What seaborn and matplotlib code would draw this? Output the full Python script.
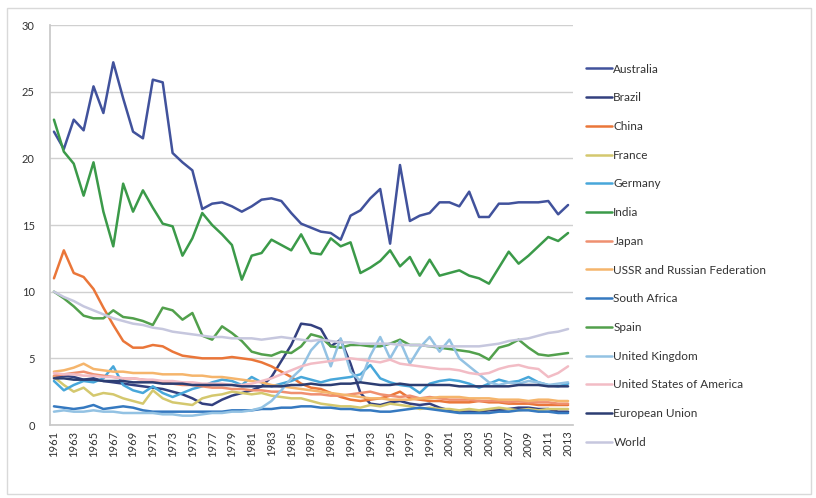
import matplotlib
matplotlib.use("Agg")
import matplotlib.pyplot as plt
from matplotlib.patches import Rectangle
from matplotlib.lines import Line2D
import numpy as np
import pandas as pd
import seaborn as sns

years = list(range(1961, 2014))

australia = [22.0, 20.7, 22.9, 22.1, 25.4, 23.4, 27.2, 24.5, 22.0, 21.5,
             25.9, 25.7, 20.4, 19.7, 19.1, 16.2, 16.6, 16.7, 16.4, 16.0,
             16.4, 16.9, 17.0, 16.8, 15.9, 15.1, 14.8, 14.5, 14.4, 13.9,
             15.7, 16.1, 17.0, 17.7, 13.6, 19.5, 15.3, 15.7, 15.9, 16.7,
             16.7, 16.4, 17.5, 15.6, 15.6, 16.6, 16.6, 16.7, 16.7, 16.7,
             16.8, 15.8, 16.5]
brazil = [3.6, 3.7, 3.6, 3.4, 3.5, 3.3, 3.2, 3.1, 3.0, 2.9,
          2.8, 2.7, 2.5, 2.3, 2.0, 1.6, 1.5, 1.9, 2.2, 2.4,
          2.6, 2.9, 3.6, 4.8, 6.0, 7.6, 7.5, 7.2, 5.9, 6.4,
          4.6, 2.4, 1.6, 1.5, 1.7, 1.8, 1.6, 1.5, 1.6, 1.3,
          1.1, 1.0, 1.0, 1.0, 1.1, 1.1, 1.2, 1.3, 1.3, 1.2,
          1.2, 1.0, 1.0]
china = [11.0, 13.1, 11.4, 11.1, 10.2, 8.8, 7.5, 6.3, 5.8, 5.8,
         6.0, 5.9, 5.5, 5.2, 5.1, 5.0, 5.0, 5.0, 5.1, 5.0,
         4.9, 4.7, 4.4, 4.0, 3.6, 3.1, 2.8, 2.7, 2.4, 2.1,
         1.9, 1.8, 1.9, 2.0, 2.2, 2.5, 2.0, 1.9, 1.8, 1.8,
         1.7, 1.7, 1.7, 1.8, 1.7, 1.7, 1.6, 1.6, 1.6, 1.5,
         1.5, 1.5, 1.5]
france = [3.6, 3.0, 2.5, 2.8, 2.2, 2.4, 2.3, 2.0, 1.8, 1.6,
          2.6, 2.0, 1.7, 1.6, 1.5, 2.0, 2.2, 2.3, 2.5, 2.4,
          2.3, 2.4, 2.2, 2.1, 2.0, 2.0, 1.8, 1.6, 1.5, 1.4,
          1.4, 1.3, 1.5, 1.4, 1.6, 1.5, 1.4, 1.2, 1.3, 1.2,
          1.2, 1.1, 1.2, 1.1, 1.2, 1.3, 1.2, 1.1, 1.2, 1.1,
          1.2, 1.2, 1.2]
germany = [3.3, 2.6, 3.0, 3.3, 3.2, 3.5, 4.4, 3.0, 2.6, 2.4,
           2.9, 2.4, 2.1, 2.4, 2.7, 2.9, 3.2, 3.4, 3.3, 3.0,
           3.6, 3.2, 2.9, 3.1, 3.3, 3.6, 3.4, 3.2, 3.4, 3.5,
           3.6, 3.8, 4.5, 3.5, 3.2, 3.0, 2.9, 2.4, 3.1, 3.3,
           3.4, 3.3, 3.1, 2.8, 3.1, 3.4, 3.2, 3.3, 3.6, 3.2,
           3.0, 2.9, 3.1]
india = [22.9, 20.5, 19.6, 17.2, 19.7, 16.0, 13.4, 18.1, 16.0, 17.6,
         16.3, 15.1, 14.9, 12.7, 14.0, 15.9, 15.0, 14.3, 13.5, 10.9,
         12.7, 12.9, 13.9, 13.5, 13.1, 14.3, 12.9, 12.8, 14.0, 13.4,
         13.7, 11.4, 11.8, 12.3, 13.1, 11.9, 12.6, 11.2, 12.4, 11.2,
         11.4, 11.6, 11.2, 11.0, 10.6, 11.8, 13.0, 12.1, 12.7, 13.4,
         14.1, 13.8, 14.4]
japan = [3.7, 3.8, 3.9, 4.0, 3.8, 3.7, 3.6, 3.5, 3.5, 3.4,
         3.3, 3.2, 3.1, 3.0, 3.0, 2.9, 2.8, 2.8, 2.7, 2.7,
         2.6, 2.6, 2.5, 2.5, 2.4, 2.4, 2.3, 2.3, 2.2, 2.2,
         2.3, 2.4, 2.5, 2.3, 2.2, 2.1, 2.2, 2.0, 2.1, 2.0,
         1.9, 1.9, 1.9, 1.8, 1.8, 1.8, 1.7, 1.8, 1.7, 1.7,
         1.7, 1.6, 1.6]
ussr = [4.0, 4.1, 4.3, 4.6, 4.2, 4.1, 4.0, 4.0, 3.9, 3.9,
        3.9, 3.8, 3.8, 3.8, 3.7, 3.7, 3.6, 3.6, 3.5, 3.4,
        3.3, 3.2, 3.0, 2.9, 2.8, 2.7, 2.6, 2.5, 2.4, 2.3,
        2.2, 2.1, 2.0, 2.0, 1.9, 1.9, 1.9, 2.0, 2.0, 2.1,
        2.1, 2.1, 2.0, 2.0, 2.0, 1.9, 1.9, 1.9, 1.8, 1.9,
        1.9, 1.8, 1.8]
south_africa = [1.4, 1.3, 1.2, 1.3, 1.5, 1.2, 1.3, 1.4, 1.3, 1.1,
                1.0, 1.0, 1.0, 1.0, 1.0, 1.0, 1.0, 1.0, 1.1, 1.1,
                1.1, 1.2, 1.2, 1.3, 1.3, 1.4, 1.4, 1.3, 1.3, 1.2,
                1.2, 1.1, 1.1, 1.0, 1.0, 1.1, 1.2, 1.3, 1.2, 1.1,
                1.0, 0.9, 0.9, 0.9, 0.9, 1.0, 1.0, 1.1, 1.1, 1.0,
                1.0, 0.9, 0.9]
spain = [10.0, 9.5, 8.9, 8.2, 8.0, 8.0, 8.6, 8.1, 8.0, 7.8,
         7.5, 8.8, 8.6, 7.9, 8.4, 6.7, 6.4, 7.4, 6.9, 6.3,
         5.5, 5.3, 5.2, 5.5, 5.4, 5.9, 6.8, 6.6, 5.9, 5.8,
         6.0, 6.0, 5.9, 5.9, 6.1, 6.4, 6.0, 6.0, 5.9, 5.8,
         5.7, 5.6, 5.5, 5.3, 4.9, 5.8, 6.0, 6.4, 5.8, 5.3,
         5.2, 5.3, 5.4]
united_kingdom = [1.0, 1.1, 1.0, 1.0, 1.1, 1.0, 1.0, 0.9, 0.9, 0.9,
                  0.9, 0.8, 0.8, 0.7, 0.7, 0.8, 0.9, 0.9, 1.0, 1.0,
                  1.1, 1.3, 1.8, 2.6, 3.5, 4.2, 5.6, 6.4, 4.4, 6.5,
                  4.0, 3.3, 5.2, 6.6, 5.0, 6.3, 4.6, 5.8, 6.6, 5.5,
                  6.4, 5.0, 4.4, 3.8, 3.2, 3.0, 3.2, 3.1, 3.3, 3.2,
                  3.0, 3.1, 3.2]
united_states = [3.9, 3.8, 3.8, 3.7, 3.7, 3.6, 3.6, 3.5, 3.5, 3.4,
                 3.4, 3.3, 3.3, 3.2, 3.2, 3.1, 3.1, 3.1, 3.0, 3.0,
                 3.1, 3.3, 3.5, 3.8, 4.1, 4.4, 4.6, 4.7, 4.8, 4.9,
                 5.0, 4.9, 4.8, 4.7, 4.9, 4.6, 4.5, 4.4, 4.3, 4.2,
                 4.2, 4.1, 3.9, 3.8, 3.9, 4.2, 4.4, 4.5, 4.3, 4.2,
                 3.6, 3.9, 4.4]
european_union = [3.5, 3.5, 3.4, 3.4, 3.4, 3.3, 3.3, 3.3, 3.2, 3.2,
                  3.2, 3.1, 3.1, 3.1, 3.0, 3.0, 3.0, 3.0, 3.0, 2.9,
                  2.9, 2.9, 2.9, 2.9, 3.0, 3.0, 3.1, 3.0, 3.0, 3.1,
                  3.1, 3.2, 3.1, 3.0, 3.0, 3.1, 3.0, 3.0, 3.0, 3.0,
                  3.0, 2.9, 2.9, 2.9, 2.9, 2.9, 2.9, 3.0, 3.0, 3.0,
                  2.9, 2.9, 2.9]
world = [10.0, 9.6, 9.3, 8.9, 8.6, 8.3, 8.0, 7.8, 7.6, 7.5,
         7.3, 7.2, 7.0, 6.9, 6.8, 6.7, 6.6, 6.6, 6.5, 6.5,
         6.5, 6.4, 6.5, 6.6, 6.5, 6.4, 6.3, 6.4, 6.3, 6.2,
         6.2, 6.1, 6.1, 6.1, 6.1, 6.0, 6.0, 6.0, 5.9, 5.9,
         5.9, 5.9, 5.9, 5.9, 6.0, 6.1, 6.3, 6.4, 6.5, 6.7,
         6.9, 7.0, 7.2]

countries = ["Australia", "Brazil", "China", "France", "Germany", "India",
             "Japan", "USSR and Russian Federation", "South Africa", "Spain",
             "United Kingdom", "United States of America", "European Union",
             "World"]
series = [australia, brazil, china, france, germany, india, japan, ussr,
          south_africa, spain, united_kingdom, united_states,
          european_union, world]
colors = ["#41529c", "#33407f", "#ea7639", "#d4c86e", "#48a7da", "#3b9a49",
          "#ef9070", "#f5b56c", "#3579c0", "#52a04c", "#93c2e3", "#f2bcc5",
          "#2c3d72", "#c6c7de"]

df = pd.DataFrame({
    "Year": np.tile(years, len(countries)),
    "Value": np.concatenate(series),
    "Country": np.repeat(countries, len(years)),
})

sns.set_theme(style="white")
plt.rcParams["font.family"] = ["Lato", "DejaVu Sans"]

fig = plt.figure(figsize=(8.16, 4.98), dpi=100)
fig.patch.set_facecolor("white")
fig.patches.append(Rectangle((7 / 816, 4 / 498), 804 / 816, 486 / 498,
                             transform=fig.transFigure, fill=False,
                             edgecolor="#d9d9d9", linewidth=1.0))

ax = fig.add_axes([50 / 816, 73 / 498, 523 / 816, 400 / 498])
palette = dict(zip(countries, colors))
sns.lineplot(data=df, x="Year", y="Value", hue="Country",
             hue_order=countries, palette=palette, linewidth=1.8,
             legend=False, ax=ax, sort=False)

ax.set_xlim(1960.6, 2013.5)
ax.set_ylim(0, 30)
ax.set_yticks(range(0, 31, 5))
ax.set_xticks(years[::2])
ax.set_xticklabels([str(y) for y in years[::2]], rotation=90)
ax.tick_params(axis="x", labelsize=8, colors="#333333", length=0, pad=4)
ax.tick_params(axis="y", labelsize=8, colors="#333333", length=0, pad=11)
ax.yaxis.grid(True, color="#d0d0d0", linewidth=1.0)
ax.set_axisbelow(True)
for s in ["top", "right"]:
    ax.spines[s].set_visible(False)
ax.spines["left"].set_color("#c8c8c8")
ax.spines["bottom"].set_color("#c8c8c8")
ax.set_xlabel("")
ax.set_ylabel("")

handles = [Line2D([0], [0], color=c, lw=1.8) for c in colors]
fig.legend(handles, countries, loc="upper left",
           bbox_to_anchor=(575 / 816, 1 - 53 / 498), frameon=False,
           fontsize=8.5, labelspacing=1.5, handlelength=2.2,
           handletextpad=0.15, labelcolor="#333333")

fig.savefig("out.png", dpi=100, facecolor="white")
